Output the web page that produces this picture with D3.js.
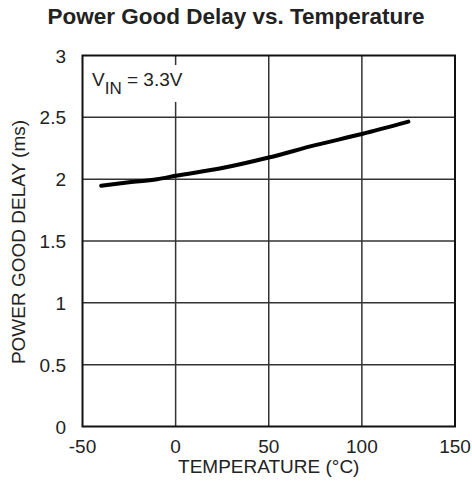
<!DOCTYPE html>
<html>
<head>
<meta charset="utf-8">
<script src="https://cdn.jsdelivr.net/npm/d3@7"></script>
<style>
  body { margin: 0; background: #fff; }
  text { font-family: "Liberation Sans", Arial, sans-serif; fill: #222; }
</style>
</head>
<body>
<svg id="chart" width="472" height="486"></svg>
<script>
// values
const temps = [-40, -25, -10, 0, 25, 50, 75, 100, 125];
const delays = [1.947, 1.975, 2.0, 2.027, 2.09, 2.175, 2.275, 2.365, 2.465];
const xTicks = [-50, 0, 50, 100, 150];
const yTicks = [0, 0.5, 1, 1.5, 2, 2.5, 3];

const margin = { left: 82.5, right: 17, top: 55.5, bottom: 59.5 };
const width = 472, height = 486;

const svg = d3.select("#chart");

const x = d3.scaleLinear().domain([-50, 150]).range([margin.left, width - margin.right]);
const y = d3.scaleLinear().domain([0, 3]).range([height - margin.bottom, margin.top]);

// grid
svg.append("g")
  .selectAll("line")
  .data(xTicks.slice(1, -1))
  .join("line")
  .attr("x1", d => x(d)).attr("x2", d => x(d))
  .attr("y1", y(0)).attr("y2", y(3))
  .attr("stroke", "#333").attr("stroke-width", 1.5);

svg.append("g")
  .selectAll("line")
  .data(yTicks.slice(1, -1))
  .join("line")
  .attr("x1", x(-50)).attr("x2", x(150))
  .attr("y1", d => y(d)).attr("y2", d => y(d))
  .attr("stroke", "#333").attr("stroke-width", 1.5);

// label box hides the grid behind it
svg.append("rect")
  .attr("x", x(-50) + 2).attr("y", 65)
  .attr("width", 100).attr("height", 37)
  .attr("fill", "#fff");

svg.append("rect")
  .attr("x", x(-50)).attr("y", y(3))
  .attr("width", x(150) - x(-50)).attr("height", y(0) - y(3))
  .attr("fill", "none").attr("stroke", "#111").attr("stroke-width", 2);

// tick labels
svg.append("g")
  .selectAll("text")
  .data(xTicks)
  .join("text")
  .attr("x", d => x(d)).attr("y", y(0) + 26)
  .attr("text-anchor", "middle")
  .attr("font-size", 19)
  .text(d => d);

svg.append("g")
  .selectAll("text")
  .data(yTicks)
  .join("text")
  .attr("x", x(-50) - 16.5).attr("y", d => y(d) + 7)
  .attr("text-anchor", "end")
  .attr("font-size", 19)
  .text(d => d);

// the curve
const line = d3.line()
  .x((d, i) => x(temps[i]))
  .y(d => y(d))
  .curve(d3.curveMonotoneX);

svg.append("path")
  .datum(delays)
  .attr("fill", "none")
  .attr("stroke", "#000")
  .attr("stroke-width", 4)
  .attr("stroke-linecap", "round")
  .attr("d", line);

// V_IN note
const note = svg.append("text")
  .attr("x", x(-50) + 9.5).attr("y", 86)
  .attr("font-size", 19);
note.append("tspan").text("V");
note.append("tspan").attr("font-size", 17).attr("dy", 8).text("IN");
note.append("tspan").attr("dy", -8).text(" = 3.3V");

// titles
svg.append("text")
  .attr("x", 236).attr("y", 24)
  .attr("text-anchor", "middle")
  .attr("font-size", 22.5).attr("font-weight", "bold")
  .text("Power Good Delay vs. Temperature");

svg.append("text")
  .attr("x", x(50)).attr("y", 473)
  .attr("text-anchor", "middle")
  .attr("font-size", 19)
  .text("TEMPERATURE (°C)");

svg.append("text")
  .attr("transform", `translate(25, 242) rotate(-90)`)
  .attr("text-anchor", "middle")
  .attr("font-size", 19)
  .text("POWER GOOD DELAY (ms)");
</script>
</body>
</html>
